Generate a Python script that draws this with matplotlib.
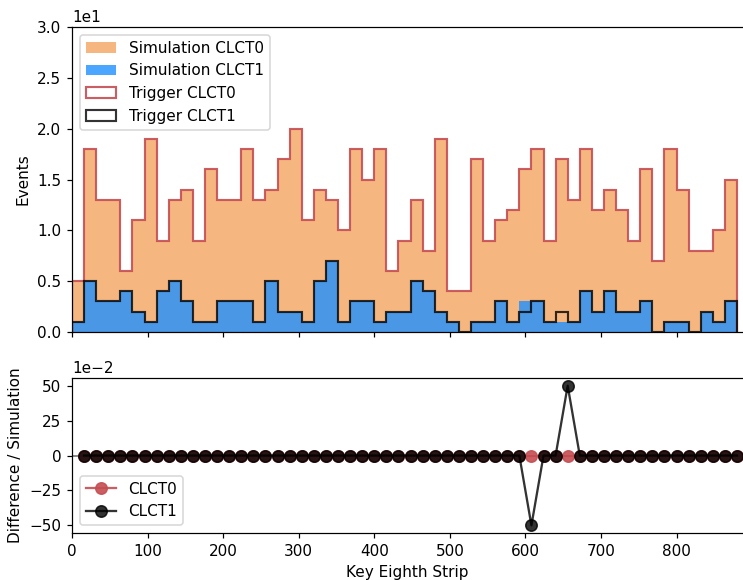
import numpy as np
import matplotlib
matplotlib.use("Agg")
import matplotlib.pyplot as plt

# ---- data ----
bin_edges = list(range(0, 881, 16))  # 55 bins of 16 key eighth strips

sim_clct0 = [5, 18, 13, 13, 6, 11, 19, 9, 13, 14, 9, 16, 13, 13, 18, 13, 14, 17, 20, 11,
             14, 13, 10, 18, 15, 18, 6, 9, 13, 8, 19, 4, 4, 17, 9, 11, 12, 16, 18, 9,
             17, 13, 18, 12, 14, 12, 9, 16, 7, 18, 14, 8, 8, 10, 15]
trig_clct0 = list(sim_clct0)

sim_clct1 = [1, 5, 3, 3, 4, 2, 1, 4, 5, 3, 1, 1, 3, 3, 3, 1, 5, 2, 2, 1,
             5, 7, 1, 3, 3, 1, 2, 2, 5, 4, 2, 1, 0, 1, 1, 3, 1, 3, 3, 1,
             1, 1, 4, 2, 4, 2, 2, 3, 0, 1, 1, 0, 2, 1, 3]
trig_clct1 = [1, 5, 3, 3, 4, 2, 1, 4, 5, 3, 1, 1, 3, 3, 3, 1, 5, 2, 2, 1,
              5, 7, 1, 3, 3, 1, 2, 2, 5, 4, 2, 1, 0, 1, 1, 3, 1, 2, 3, 1,
              2, 1, 4, 2, 4, 2, 2, 3, 0, 1, 1, 0, 2, 1, 3]

# ratio points placed at bin upper edges
ratio_x = bin_edges[1:]
ratio_clct0 = [0.0] * 55
ratio_clct1 = [0.0] * 37 + [-0.5, 0.0, 0.0, 0.5] + [0.0] * 14

# ---- plot ----
DPI = 110
fig = plt.figure(figsize=(743 / DPI, 580 / DPI), dpi=DPI)
ax1 = fig.add_axes([0.0969, 0.4276, 0.9031, 0.5258])
ax2 = fig.add_axes([0.0969, 0.0810, 0.9031, 0.2672], sharex=ax1)

edges = np.array(bin_edges)
left = edges[:-1]

c_orange = '#f4a460'
c_blue = '#1e90ff'
c_red = '#c44e52'

ax1.hist(left, bins=edges, weights=sim_clct0, histtype='stepfilled',
         color=c_orange, alpha=0.8, label='Simulation CLCT0')
ax1.hist(left, bins=edges, weights=sim_clct1, histtype='stepfilled',
         color=c_blue, alpha=0.8, label='Simulation CLCT1')
ax1.hist(left, bins=edges, weights=trig_clct0, histtype='step',
         color=c_red, alpha=0.9, lw=1.4, label='Trigger CLCT0')
ax1.hist(left, bins=edges, weights=trig_clct1, histtype='step',
         color='k', alpha=0.8, lw=1.4, label='Trigger CLCT1')

ax1.set_ylim(0, 30)
ax1.set_yticks([0, 5, 10, 15, 20, 25, 30])
ax1.ticklabel_format(axis='y', style='sci', scilimits=(1, 1))
ax1.set_ylabel('Events')
ax1.legend(loc='upper left')
ax1.tick_params(axis='x', labelbottom=False)
ax1.spines['right'].set_visible(False)

ax2.axhline(0, color='gray', lw=1.2, zorder=0)
ax2.plot(ratio_x, ratio_clct0, 'o-', color=c_red, alpha=0.9, ms=7.5, lw=1.5, label='CLCT0')
ax2.plot(ratio_x, ratio_clct1, 'o-', color='k', alpha=0.8, ms=7.5, lw=1.5, label='CLCT1')
ax2.set_ylim(-0.555, 0.555)
ax2.set_yticks([-0.5, -0.25, 0, 0.25, 0.5])
ax2.ticklabel_format(axis='y', style='sci', scilimits=(-2, -2))
ax2.set_ylabel('Difference / Simulation')
ax2.set_xlabel('Key Eighth Strip')
ax2.legend(loc='lower left')
ax2.spines['right'].set_visible(False)

ax1.set_xlim(0, 888)
ax1.set_xticks([0, 100, 200, 300, 400, 500, 600, 700, 800])

fig.savefig('out.png', dpi=DPI)
